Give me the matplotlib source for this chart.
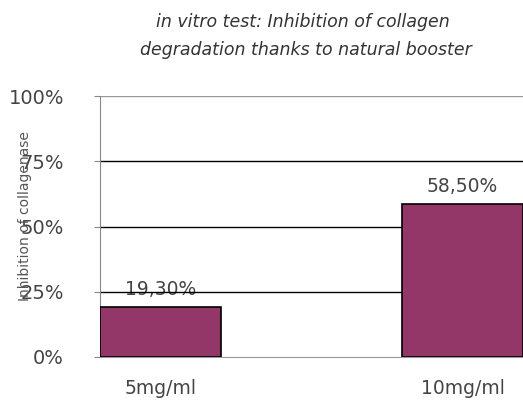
import matplotlib
matplotlib.use("Agg")
import matplotlib.pyplot as plt
import numpy as np

categories = ["5mg/ml", "10mg/ml"]
values = [19.3, 58.5]
value_labels = ["19,30%", "58,50%"]
yticks = [0, 25, 50, 75, 100]
ytick_labels = ["0%", "25%", "50%", "75%", "100%"]

bar_color = "#933768"
text_color = "#444444"

fig = plt.figure(figsize=(5.23, 4.0), dpi=100)
ax = fig.add_axes([100/523, 43/400, 1 - 100/523, 261/400])

x = np.arange(len(categories))
ax.bar(x, values, width=0.4, color=bar_color, edgecolor="black", linewidth=1.2, zorder=3)

# grid: top line is grey, the rest black
for t in yticks[1:]:
    col = "#999999" if t == 100 else "black"
    ax.axhline(t, color=col, linewidth=1.0, zorder=2)

ax.set_xlim(-0.2, 1.2)
ax.set_ylim(0, 100)
ax.set_yticks(yticks)
ax.set_yticklabels(ytick_labels, fontsize=14, color=text_color)
ax.set_xticks(x)
ax.set_xticklabels(categories, fontsize=13.5, color=text_color)
ax.tick_params(axis="y", length=4, direction="out", color="#888888", pad=22)
ax.tick_params(axis="x", length=0, pad=16)

for s in ["top", "right"]:
    ax.spines[s].set_visible(False)
ax.spines["left"].set_color("#888888")
ax.spines["bottom"].set_color("#999999")

for xi, v, lab in zip(x, values, value_labels):
    ax.text(xi, v + 3, lab, ha="center", va="bottom", fontsize=13.5, color=text_color, zorder=1)

fig.text(0.048, 0.46, "Inhibition of collagenase", rotation=90, ha="center", va="center",
         fontsize=10, color="#555555")

fig.text(0.58, 0.945, "in vitro test: Inhibition of collagen", ha="center", va="center",
         fontsize=12.5, style="italic", color="#333333")
fig.text(0.585, 0.875, "degradation thanks to natural booster", ha="center", va="center",
         fontsize=12.5, style="italic", color="#333333")

fig.savefig("out.png", dpi=100)
